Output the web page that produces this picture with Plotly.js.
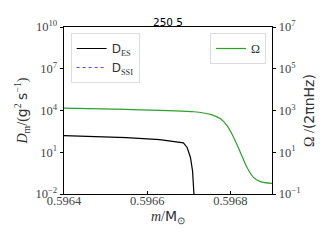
<!DOCTYPE html>
<html>
<head>
<meta charset="utf-8">
<script src="https://cdn.plot.ly/plotly-3.0.1.min.js"></script>
<style>html,body{margin:0;padding:0;background:#fff;}#chart{width:335px;height:244px;}</style>
</head>
<body>
<div id="chart"></div>
<script>
// D_ES (left axis, g^2 s^-1)
const massES = [0.59640, 0.59655, 0.59663, 0.596687, 0.596696, 0.596704, 0.596709, 0.596712, 0.596713];
const dES = [155, 112, 80, 47, 22, 4.2, 0.46, 0.029, 0.005];
// D_SSI (below the plotted range: not visible)
const massSSI = [0.59640, 0.59690];
const dSSI = [1e-6, 1e-6];
// Omega (right axis, 2*pi*nHz)
const massOmega = [0.59640, 0.59655, 0.596712, 0.596752, 0.596776, 0.596792, 0.596808, 0.596824, 0.596840, 0.596856, 0.596872, 0.59690];
const omega = [1290, 1120, 870, 650, 400, 190, 51, 9.8, 1.86, 0.61, 0.39, 0.32];
const xTicks = [0.5964, 0.5966, 0.5968];
const xTickText = ["0.5964", "0.5966", "0.5968"];
const yTicks = [1e-2, 1e1, 1e4, 1e7, 1e10];
const yTickText = ["10<sup>−2</sup>", "10<sup>1</sup>", "10<sup>4</sup>", "10<sup>7</sup>", "10<sup>10</sup>"];
const y2Ticks = [1e-1, 1e1, 1e3, 1e5, 1e7];
const y2TickText = ["10<sup>−1</sup>", "10<sup>1</sup>", "10<sup>3</sup>", "10<sup>5</sup>", "10<sup>7</sup>"];

const serif = "Liberation Serif";
const sans = "DejaVu Sans";

const traces = [
  {x: massES, y: dES, type: "scatter", mode: "lines", name: "<span style=\"font-family:DejaVu Sans\">D</span><sub>ES</sub>",
   line: {color: "#000000", width: 1.2}, yaxis: "y", legend: "legend"},
  {x: massSSI, y: dSSI, type: "scatter", mode: "lines", name: "<span style=\"font-family:DejaVu Sans\">D</span><sub>SSI</sub>",
   line: {color: "#5050ff", width: 1.2, dash: "dot"}, yaxis: "y", legend: "legend"},
  {x: massOmega, y: omega, type: "scatter", mode: "lines", name: "Ω",
   line: {color: "#2ca02c", width: 1.2, shape: "spline", smoothing: 0.8}, yaxis: "y2", legend: "legend2"}
];

const axisCommon = {
  showline: true, linecolor: "#000", linewidth: 1.3,
  ticks: "outside", ticklen: 3, tickcolor: "#000", tickwidth: 1,
  showgrid: false, zeroline: false,
  tickfont: {family: serif, size: 12.5, color: "#444"}
};

const layout = {
  width: 335, height: 244,
  font: {family: serif, size: 13, color: "#333"},
  margin: {l: 64, r: 63, t: 27, b: 50},
  paper_bgcolor: "#fff", plot_bgcolor: "#fff",
  title: {text: "250 5", font: {family: sans, size: 10.5, color: "#000"},
          x: 0.5, xref: "paper", y: 1, yref: "paper", yanchor: "bottom", pad: {b: 1}},
  xaxis: Object.assign({}, axisCommon, {
    ticks: "inside", ticklen: 3, ticklabelstandoff: -5,
    range: [0.5964, 0.5969], tickmode: "array", tickvals: xTicks, ticktext: xTickText, mirror: true,
    title: {text: "<i>m</i>/<span style=\"font-family:DejaVu Sans\">M</span><sub>⊙</sub>", font: {family: serif, size: 14, color: "#333"}, standoff: 0}
  }),
  yaxis: Object.assign({}, axisCommon, {
    type: "log", range: [-2, 10], tickmode: "array", tickvals: yTicks, ticktext: yTickText,
    title: {text: "<i>D</i><sub>m</sub>/(<span style=\"font-family:DejaVu Sans\">g</span><sup>2</sup> <span style=\"font-family:DejaVu Sans\">s</span><sup>−1</sup>)",
            font: {family: serif, size: 14, color: "#333"}, standoff: 4}
  }),
  yaxis2: Object.assign({}, axisCommon, {
    type: "log", range: [-1, 7], tickmode: "array", tickvals: y2Ticks, ticktext: y2TickText,
    overlaying: "y", side: "right",
    title: {text: "Ω /<span style=\"font-family:DejaVu Sans\">(2πnHz)</span>", font: {family: serif, size: 14, color: "#333"}, standoff: 4}
  }),
  legend: {x: 0.032, y: 0.964, xanchor: "left", yanchor: "top",
           bgcolor: "rgba(255,255,255,0.8)", bordercolor: "#dddddd", borderwidth: 1,
           font: {family: serif, size: 12, color: "#333"}},
  legend2: {x: 0.971, y: 0.964, xanchor: "right", yanchor: "top",
           bgcolor: "rgba(255,255,255,0.8)", bordercolor: "#dddddd", borderwidth: 1,
           font: {family: serif, size: 12, color: "#333"}},
  showlegend: true
};

Plotly.newPlot("chart", traces, layout, {staticPlot: true, displayModeBar: false});
</script>
</body>
</html>
